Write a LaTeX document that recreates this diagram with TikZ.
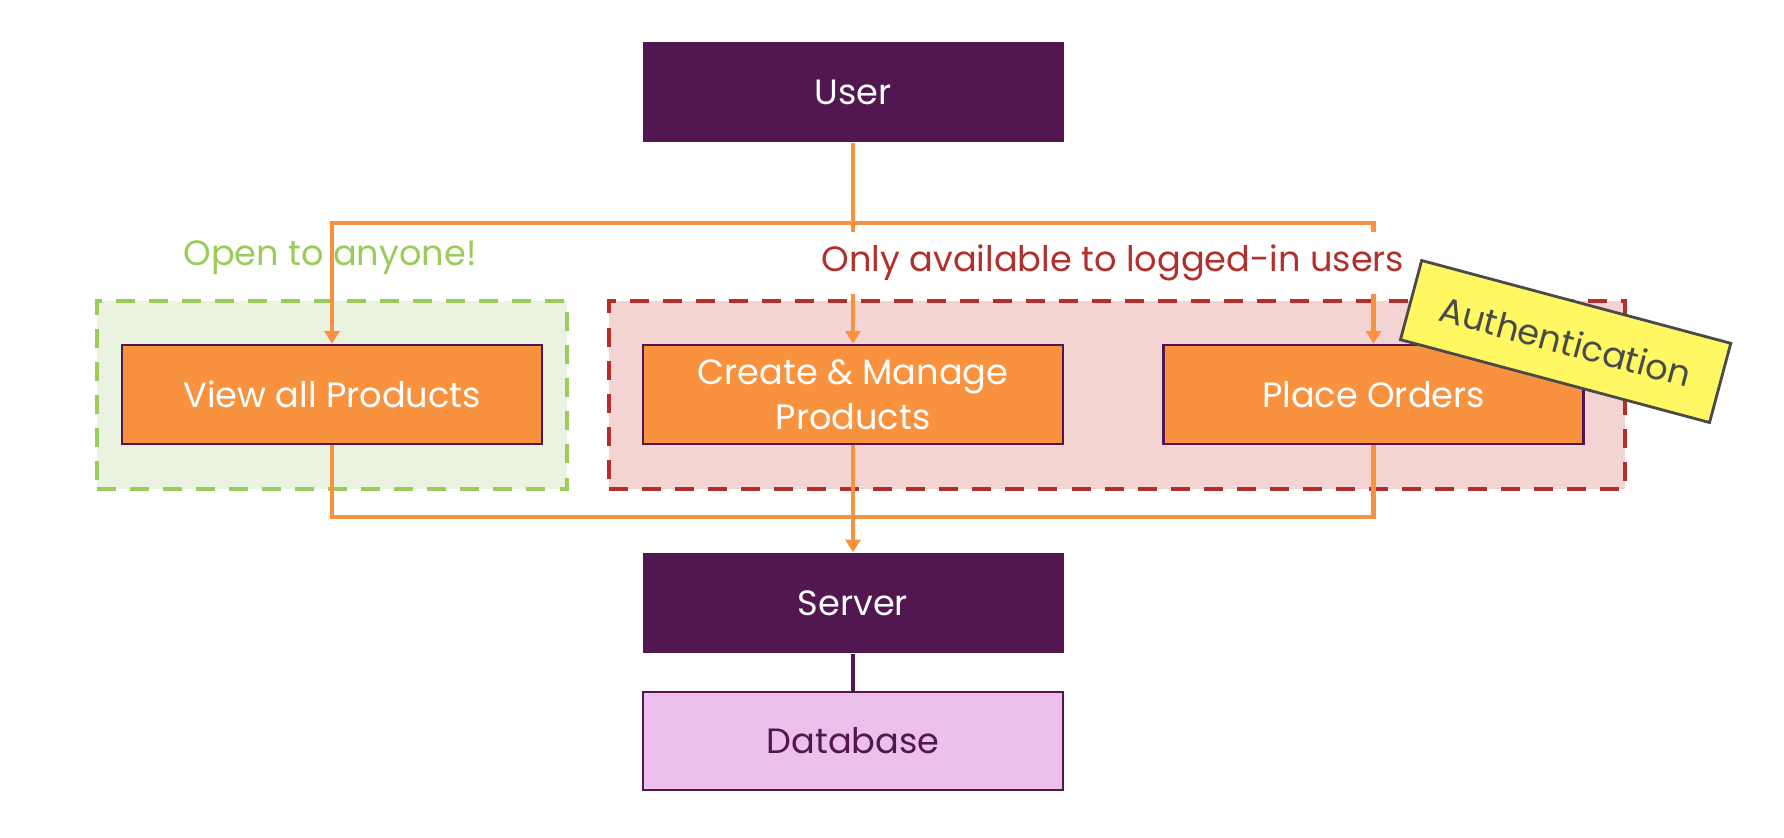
\documentclass[tikz,border=0pt]{standalone}
\usepackage{fontspec}
\setmainfont{Poppins}
\usetikzlibrary{arrows.meta}
\definecolor{plum}{HTML}{521751}
\definecolor{tangerine}{HTML}{F9923F}
\definecolor{lilac}{HTML}{ECC0EA}
\definecolor{leafline}{HTML}{9BCB5B}
\definecolor{leaffill}{HTML}{EAF3DF}
\definecolor{rustline}{HTML}{B22F2C}
\definecolor{rustfill}{HTML}{F4D3D3}
\definecolor{lemon}{HTML}{FFF862}
\definecolor{slate}{HTML}{4A4A4A}
\begin{document}
\begin{tikzpicture}[
    font=\fontsize{10pt}{12.8pt}\selectfont,
    endpoint/.style={fill=plum, text=white, minimum width=4.21cm, minimum height=1cm, inner sep=0pt},
    action/.style={draw=plum, line width=0.7pt, fill=tangerine, text=white, align=center, minimum width=4.2cm, minimum height=0.99cm, inner sep=0pt},
    zone/.style={line width=1.3pt, dash pattern=on 5.4pt off 4pt, minimum height=1.88cm, inner sep=0pt},
    wire/.style={draw=tangerine, line width=1.2pt},
    arrowwire/.style={wire, -{Triangle[width=4.2pt,length=3.6pt]}},
    ]
    \useasboundingbox (0, 0) rectangle (17.84, -8.37);
    \node[zone, draw=leafline, fill=leaffill, minimum width=4.7cm] (open) at (3.32, -3.95) {};
    \node[zone, draw=rustline, fill=rustfill, minimum width=10.16cm] (closed) at (11.17, -3.95) {};
    \node[text=leafline] (openlabel) at (3.3, -2.58) {Open to anyone!};
    \node[endpoint] (user) at (8.53, -0.92) {User};
    \node[action] (view) at (3.32, -3.945) {View all Products};
    \node[action] (create) at (8.53, -3.945) {Create \& Manage\\Products};
    \node[action] (place) at (13.735, -3.945) {Place Orders};
    \node[endpoint] (server) at (8.53, -6.03) {Server};
    \node[draw=plum, line width=0.7pt, fill=lilac, text=plum, minimum width=4.2cm, minimum height=0.98cm, inner sep=0pt] (db) at (8.53, -7.41) {Database};
    \coordinate (split) at (8.53, -2.23);
    \coordinate (join) at (8.53, -5.17);
    \draw[arrowwire] (user.south) -- (split) -| (view.north);
    \draw[arrowwire] (split) -| (place.north);
    \draw[arrowwire] (user.south) -- (create.north);
    \draw[wire] (view.south) |- (join) -| (place.south);
    \draw[arrowwire] (create.south) -- (server.north);
    \draw[draw=plum, line width=1.2pt] (server.south) -- (db.north);
    \node[fill=white, text=rustline, inner xsep=1pt, minimum height=0.62cm] (closedlabel) at (11.13, -2.63) {Only available to logged-in users};
    \node[draw=slate, line width=0.8pt, fill=lemon, text=slate, rotate=-15, minimum width=3.2cm, minimum height=0.82cm, inner sep=0pt] (auth) at (15.656, -3.415) {Authentication};
\end{tikzpicture}
\end{document}
